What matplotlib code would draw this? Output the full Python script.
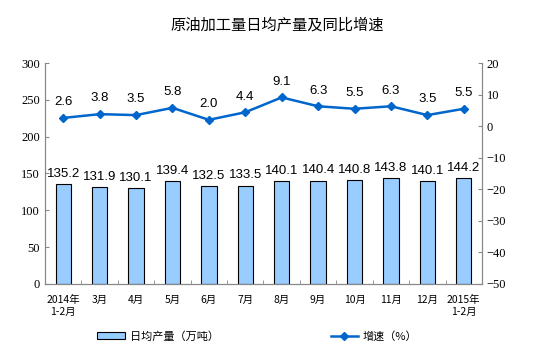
import numpy as np
import matplotlib
matplotlib.use("Agg")
import matplotlib.pyplot as plt
from matplotlib.lines import Line2D
from matplotlib.patches import Patch

plt.rcParams['font.family'] = ['Noto Sans CJK SC', 'DejaVu Sans']

months = ["2014年\n1-2月", "3月", "4月", "5月", "6月", "7月", "8月", "9月",
          "10月", "11月", "12月", "2015年\n1-2月"]
output = [135.2, 131.9, 130.1, 139.4, 132.5, 133.5, 140.1, 140.4, 140.8, 143.8, 140.1, 144.2]
growth = [2.6, 3.8, 3.5, 5.8, 2.0, 4.4, 9.1, 6.3, 5.5, 6.3, 3.5, 5.5]

fig = plt.figure(figsize=(5.54, 3.53), dpi=100)
ax1 = fig.add_axes([0.0812, 0.1955, 0.7888, 0.626])
ax2 = ax1.twinx()

x = np.arange(len(months))
ax1.bar(x, output, width=0.42, color="#99CCFF", edgecolor="black", linewidth=0.8)
for xi, v in zip(x, output):
    ax1.annotate("%.1f" % v, (xi, v), xytext=(0, 3), textcoords="offset points",
                 ha="center", va="bottom", fontsize=9.5, family="Liberation Sans")

ax2.plot(x, growth, color="#0066CC", marker="D", markersize=4, linewidth=1.8)
for xi, v in zip(x, growth):
    ax2.annotate("%.1f" % v, (xi, v), xytext=(0, 7), textcoords="offset points",
                 ha="center", va="bottom", fontsize=9.5, family="Liberation Sans")

ax1.set_xlim(-0.5, len(months) - 0.5)
ax1.set_ylim(0, 300)
ax1.set_yticks(range(0, 301, 50))
ax2.set_ylim(-50, 20)
ax2.set_yticks(range(-50, 21, 10))

ax1.set_xticks(x)
ax1.set_xticklabels(months, fontsize=7.5)
ax1.tick_params(axis="x", length=0, pad=8)
ax1.set_xticks(np.arange(-0.5, len(months), 1), minor=True)
ax1.tick_params(axis="x", which="minor", direction="in", length=3, color="#888888")
ax1.tick_params(axis="y", direction="in", length=3, labelsize=9, color="#888888",
                labelfontfamily="Liberation Serif")
ax2.tick_params(axis="y", direction="in", length=3, labelsize=9, color="#888888",
                labelfontfamily="Liberation Serif")

for a in (ax1, ax2):
    a.spines["top"].set_visible(False)
    for s in ("left", "right", "bottom"):
        a.spines[s].set_color("#888888")

fig.text(0.5, 0.93, "原油加工量日均产量及同比增速", ha="center", va="center", fontsize=11)

handles = [Patch(facecolor="#99CCFF", edgecolor="black", linewidth=0.8),
           Line2D([], [], color="#0066CC", marker="D", markersize=4, linewidth=1.8)]
fig.legend(handles[:1], ["日均产量（万吨）"], loc="center", bbox_to_anchor=(0.285, 0.048),
           frameon=False, fontsize=8, handlelength=2.5, handletextpad=0.4)
fig.legend(handles[1:], ["增速（%）"], loc="center", bbox_to_anchor=(0.675, 0.048),
           frameon=False, fontsize=8, handlelength=2.5, handletextpad=0.4)

fig.savefig("out.png", dpi=100)
